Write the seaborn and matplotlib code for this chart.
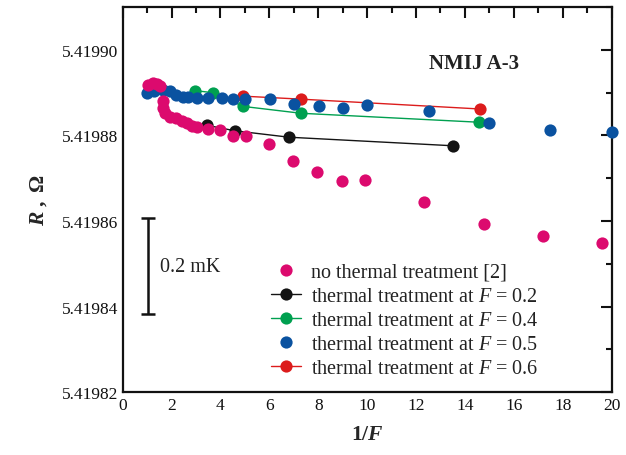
import matplotlib
matplotlib.use("Agg")
import matplotlib.pyplot as plt
import seaborn as sns
import pandas as pd
from matplotlib.ticker import MultipleLocator, FormatStrFormatter
from matplotlib.lines import Line2D

# --- data: resistance R (ohm) versus 1/F ---
x_none = [1.05, 1.25, 1.40, 1.53, 1.63, 1.66, 1.73, 1.93, 2.20, 2.41, 2.62, 2.82,
          3.03, 3.50, 3.98, 4.52, 5.03, 5.97, 6.95, 7.96, 8.96, 9.90, 12.34,
          14.78, 17.20, 19.60]
r_none = [5.4198919, 5.4198923, 5.4198921, 5.4198915, 5.4198880, 5.4198864,
          5.4198852, 5.4198844, 5.4198840, 5.4198833, 5.4198829, 5.4198822,
          5.4198821, 5.4198815, 5.4198813, 5.4198799, 5.4198799, 5.4198779,
          5.4198740, 5.4198715, 5.4198693, 5.4198696, 5.4198645, 5.4198594,
          5.4198565, 5.4198549]

x_f02 = [3.43, 4.59, 6.80, 13.50]
r_f02 = [5.4198824, 5.4198811, 5.4198796, 5.4198776]

x_f04 = [2.96, 3.70, 4.93, 7.29, 14.58]
r_f04 = [5.4198905, 5.4198900, 5.4198868, 5.4198852, 5.4198831]

x_f05 = [0.98, 1.30, 1.66, 1.93, 2.20, 2.48, 2.67, 3.03, 3.50, 4.05, 4.52, 5.00,
         6.02, 7.02, 8.02, 9.02, 10.00, 12.51, 14.99, 17.49, 20.00]
r_f05 = [5.4198900, 5.4198905, 5.4198907, 5.4198903, 5.4198895, 5.4198890,
         5.4198891, 5.4198887, 5.4198887, 5.4198887, 5.4198885, 5.4198885,
         5.4198885, 5.4198874, 5.4198870, 5.4198865, 5.4198872, 5.4198858,
         5.4198829, 5.4198814, 5.4198808]

x_f06 = [4.93, 7.29, 14.61]
r_f06 = [5.4198892, 5.4198885, 5.4198862]

labels = ["no thermal treatment [2]",
          r"thermal treatment at $F$ = 0.2",
          r"thermal treatment at $F$ = 0.4",
          r"thermal treatment at $F$ = 0.5",
          r"thermal treatment at $F$ = 0.6"]

col_none = "#DC0A6E"
col_f02 = "#141414"
col_f04 = "#00A050"
col_f05 = "#0A52A0"
col_f06 = "#DC1C1C"

sns.set_theme(style="white")
plt.rcParams["font.family"] = ["Liberation Serif", "DejaVu Serif"]
plt.rcParams["mathtext.fontset"] = "custom"
plt.rcParams["mathtext.rm"] = "Liberation Serif"
plt.rcParams["mathtext.it"] = "Liberation Serif:italic"
plt.rcParams["mathtext.bf"] = "Liberation Serif:bold"
plt.rcParams["mathtext.bfit"] = "Liberation Serif:bold:italic"

fig = plt.figure(figsize=(6.26, 4.56), dpi=100)
ax = fig.add_axes([0.196, 0.138, 0.781, 0.844])

ms = 8.8
lw = 1.0


def series(xs, rs):
    return pd.DataFrame({"x": xs, "r": rs})


sns.lineplot(data=series(x_f02, r_f02), x="x", y="r", color=col_f02, lw=lw,
             marker="o", markersize=ms, markeredgewidth=0, ax=ax, zorder=2)
sns.lineplot(data=series(x_f04, r_f04), x="x", y="r", color=col_f04, lw=lw,
             marker="o", markersize=ms, markeredgewidth=0, ax=ax, zorder=3)
sns.lineplot(data=series(x_f06, r_f06), x="x", y="r", color=col_f06, lw=lw,
             marker="o", markersize=ms, markeredgewidth=0, ax=ax, zorder=4)
sns.scatterplot(data=series(x_f05, r_f05), x="x", y="r", color=col_f05,
                s=ms ** 2, linewidth=0, ax=ax, zorder=5, clip_on=False)
sns.scatterplot(data=series(x_none, r_none), x="x", y="r", color=col_none,
                s=ms ** 2, linewidth=0, ax=ax, zorder=6)

ax.set_xlim(0, 20)
ax.set_ylim(5.41982, 5.41991)
ax.xaxis.set_major_locator(MultipleLocator(2))
ax.xaxis.set_minor_locator(MultipleLocator(1))
ax.yaxis.set_major_locator(MultipleLocator(0.00002))
ax.yaxis.set_minor_locator(MultipleLocator(0.00001))
ax.yaxis.set_major_formatter(FormatStrFormatter("%.5f"))
ax.tick_params(which="both", direction="in", top=True, right=True,
               labelsize=12.5, width=1.5, colors="#111111")
ax.tick_params(which="major", length=8)
ax.tick_params(which="minor", length=4.5)
for sp in ax.spines.values():
    sp.set_linewidth(1.6)
    sp.set_color("#111111")

ax.set_xlabel(r"$\mathbf{1/}\mathbfit{F}$", fontsize=15.5, labelpad=9)
ax.set_ylabel(r"$\mathbfit{R}\mathbf{\ ,\ \Omega}$", fontsize=15.5, labelpad=9)

ax.text(14.37, 5.4198969, "NMIJ A-3", fontsize=15, fontweight="bold",
        ha="center", va="center", color="#222222")

# 0.2 mK scale bar
ax.errorbar([1.03], [5.4198494], yerr=[[1.12e-5], [1.12e-5]], fmt="none",
            ecolor="#111111", elinewidth=1.8, capsize=5, capthick=1.8)
ax.text(1.52, 5.4198494, "0.2 mK", fontsize=14.5, va="center", ha="left",
        color="#222222")

handles = [
    Line2D([], [], ls="none", marker="o", color=col_none, markersize=ms, mew=0),
    Line2D([], [], lw=lw, marker="o", color=col_f02, markersize=ms, mew=0),
    Line2D([], [], lw=lw, marker="o", color=col_f04, markersize=ms, mew=0),
    Line2D([], [], ls="none", marker="o", color=col_f05, markersize=ms, mew=0),
    Line2D([], [], lw=lw, marker="o", color=col_f06, markersize=ms, mew=0),
]
ax.legend(handles, labels, loc="upper left", bbox_to_anchor=(0.283, 0.362),
          frameon=False, fontsize=14.5, handlelength=1.5, handletextpad=0.5,
          labelspacing=0.24, borderpad=0, labelcolor="#222222")

fig.savefig("out.png", dpi=100)
